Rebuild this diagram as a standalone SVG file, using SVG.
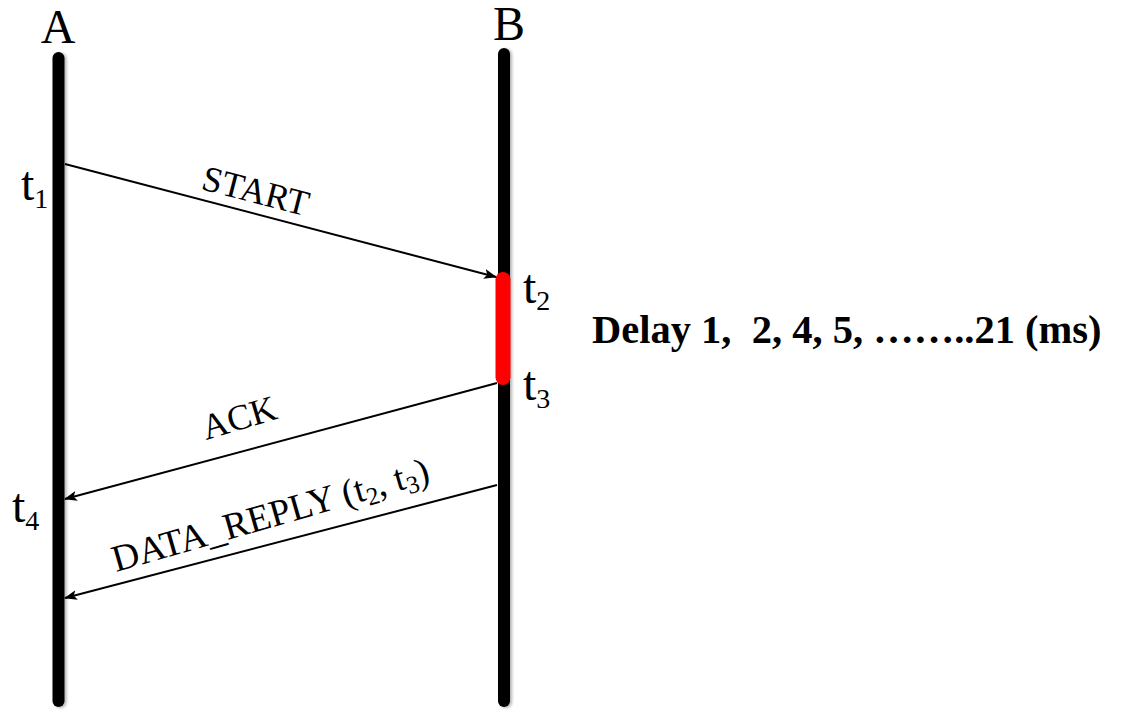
<svg xmlns="http://www.w3.org/2000/svg" width="1130" height="714" viewBox="0 0 1130 714">
  <style>
    .life { stroke: #000; stroke-width: 12; stroke-linecap: round; fill: none; filter: url(#soft); }
    .busy { stroke: #f00; stroke-width: 15; stroke-linecap: round; fill: none; }
    .msg { stroke: #000; stroke-width: 2; fill: none; marker-end: url(#head); }
    .lbl { font-family: "Liberation Serif", "Times New Roman", serif; fill: #000; }
    .name { font-size: 48px; text-anchor: middle; }
    .time { font-size: 48px; }
    .sub { font-size: 28px; }
    .msgtxt { font-size: 36px; }
    .big { font-size: 37.5px; }
    .msgsub { font-size: 25px; }
    .note { font-size: 40.5px; font-weight: bold; }
  </style>
  <defs>
    <marker id="head" viewBox="0 0 13 10" refX="12" refY="5" markerWidth="13" markerHeight="10" markerUnits="userSpaceOnUse" orient="auto">
      <path d="M0,0 L13,5 L0,10 L3,5 Z" fill="#000"/>
    </marker>
    <!-- light drop shadow for the lifelines -->
    <filter id="soft" filterUnits="userSpaceOnUse" x="0" y="0" width="1130" height="714">
      <feGaussianBlur in="SourceAlpha" stdDeviation="1.5"/>
      <feOffset dx="2" dy="1"/>
      <feComponentTransfer><feFuncA type="linear" slope="0.3"/></feComponentTransfer>
      <feMerge><feMergeNode/><feMergeNode in="SourceGraphic"/></feMerge>
    </filter>
  </defs>
  <rect width="1130" height="714" fill="#fff"/>

  <g id="nodeA">
    <line class="life" x1="58.5" y1="58" x2="58.5" y2="701"/>
    <text class="lbl name" x="58" y="43">A</text>
    <text class="lbl time" x="21" y="200">t<tspan class="sub" dy="8">1</tspan></text>
    <text class="lbl time" x="12" y="522">t<tspan class="sub" dy="8">4</tspan></text>
  </g>

  <g id="nodeB">
    <line class="life" x1="504" y1="54" x2="504" y2="701"/>
    <line class="busy" x1="503" y1="279.5" x2="503" y2="377.5"/>
    <text class="lbl name" x="509" y="40">B</text>
    <text class="lbl time" x="523" y="303">t<tspan class="sub" dy="7">2</tspan></text>
    <text class="lbl time" x="523" y="400">t<tspan class="sub" dy="8">3</tspan></text>
  </g>

  <g id="note">
    <text class="lbl note" x="592" y="343" xml:space="preserve">Delay 1,  2, 4, 5, ……..21 (ms)</text>
  </g>

  <g id="connectors">
    <line class="msg" x1="65" y1="164" x2="496" y2="277"/>
    <text class="lbl msgtxt" transform="translate(200,189) rotate(14.5)">START</text>
    <line class="msg" x1="497" y1="383" x2="65" y2="499"/>
    <text class="lbl msgtxt" transform="translate(206,440) rotate(-16.5)">ACK</text>
    <line class="msg" x1="497" y1="485" x2="65" y2="598"/>
    <text class="lbl msgtxt big" transform="translate(116,572) rotate(-16)">DATA_REPLY (t<tspan class="msgsub" dy="6">2</tspan><tspan dy="-6">, t</tspan><tspan class="msgsub" dy="6">3</tspan><tspan dy="-6">)</tspan></text>
  </g>
</svg>
